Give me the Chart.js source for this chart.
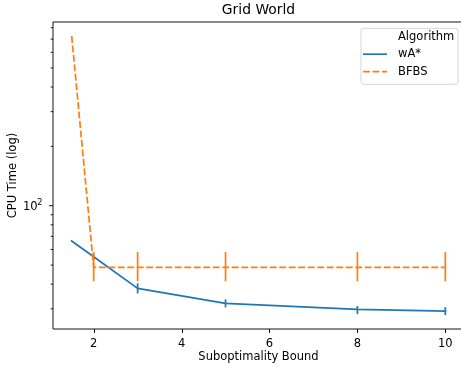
<!DOCTYPE html>
<html>
<head>
<meta charset="utf-8">
<script src="https://cdn.jsdelivr.net/npm/chart.js@4/dist/chart.umd.min.js"></script>
<style>
html,body{margin:0;padding:0;background:#fff;overflow:hidden;width:461px;height:368px;}
#wrap{position:relative;width:465px;height:368px;}
canvas{display:block;}
</style>
</head>
<body>
<div id="wrap"><canvas id="c" width="465" height="368"></canvas></div>
<script>
// ---- data ----
const bounds = [1.5, 2, 3, 5, 8, 10];
const wastar = [66.2, 55.1, 38.1, 32.0, 29.8, 29.2];
const wastarLow = [null, 53.2, 35.9, 30.5, 28.2, 27.9];
const wastarHigh = [null, 57.0, 40.4, 33.5, 31.0, 30.6];
const bfbs = [726, 48.7, 48.7, 48.7, 48.7, 48.7];
const bfbsLow = [null, 41.4, 41.4, 41.4, 41.4, 41.4];
const bfbsHigh = [null, 58.2, 58.2, 58.2, 58.2, 58.2];
const xTicks = [2, 4, 6, 8, 10];
const yMajorTicks = [100];
const yMajorLabels = [['10', '2']];   // base, exponent
const yMinorTicks = [30, 40, 50, 60, 70, 80, 90, 200, 300, 400, 500, 600, 700, 800];
const seriesNames = ['wA*', 'BFBS'];
const legendTitle = 'Algorithm';
const chartTitle = 'Grid World';
const xTitle = 'Suboptimality Bound';
const yTitle = 'CPU Time (log)';

const BLUE = '#1f77b4', ORANGE = '#ff7f0e';
const FONT = '"DejaVu Sans", sans-serif';
const LW = 1.73;
const DASH = [6.9, 2.6];

function pts(ys){ return bounds.map((x,i)=>({x:x,y:ys[i]})); }

const errPlugin = {
  id:'errbars',
  afterDatasetDraw(chart, args){
    const ds = chart.data.datasets[args.index];
    const xs = chart.scales.x, ys = chart.scales.y;
    const ctx = chart.ctx;
    ctx.save();
    ctx.strokeStyle = ds.borderColor;
    ctx.lineWidth = LW;
    ctx.setLineDash([]);
    for (let i=0;i<bounds.length;i++){
      if (ds.errLow[i]==null) continue;
      const px = xs.getPixelForValue(bounds[i]);
      ctx.beginPath();
      ctx.moveTo(px, ys.getPixelForValue(ds.errLow[i]));
      ctx.lineTo(px, ys.getPixelForValue(ds.errHigh[i]));
      ctx.stroke();
    }
    ctx.restore();
  }
};

const decoPlugin = {
  id:'deco',
  afterDraw(chart){
    const ctx = chart.ctx, a = chart.chartArea;
    const xs = chart.scales.x, ys = chart.scales.y;
    ctx.save();
    // frame
    ctx.strokeStyle = '#000'; ctx.lineWidth = 0.92;
    ctx.beginPath();
    ctx.moveTo(a.left, a.bottom); ctx.lineTo(a.left, a.top); ctx.lineTo(a.right, a.top);
    ctx.moveTo(a.left, a.bottom); ctx.lineTo(a.right, a.bottom);
    ctx.moveTo(a.right, a.top); ctx.lineTo(a.right, a.bottom);
    ctx.stroke();
    // ticks
    ctx.beginPath();
    xTicks.forEach(v=>{ const p = Math.round(xs.getPixelForValue(v))+0.5; ctx.moveTo(p,a.bottom); ctx.lineTo(p,a.bottom+4); });
    yMajorTicks.forEach(v=>{ const p = ys.getPixelForValue(v); ctx.moveTo(a.left,p); ctx.lineTo(a.left-4,p); });
    yMinorTicks.forEach(v=>{ const p = ys.getPixelForValue(v); ctx.moveTo(a.left,p); ctx.lineTo(a.left-2.3,p); });
    ctx.stroke();
    // y major tick labels (mathtext-like superscript)
    ctx.fillStyle = '#000';
    ctx.textBaseline = 'alphabetic';
    yMajorTicks.forEach((v,i)=>{
      const p = ys.getPixelForValue(v);
      const [base, exp] = yMajorLabels[i];
      ctx.font = '8.2px ' + FONT;
      const ew = ctx.measureText(exp).width;
      ctx.textAlign = 'right';
      ctx.fillText(exp, a.left - 10.5, p - 0.3);
      ctx.font = '11.5px ' + FONT;
      ctx.fillText(base, a.left - 10.5 - ew + 0.3, p + 4.3);
    });
    // titles
    ctx.textAlign = 'center'; ctx.textBaseline = 'middle';
    ctx.font = '13.9px ' + FONT;
    const cx = (a.left + a.right)/2;
    ctx.fillText(chartTitle, cx, 10);
    ctx.font = '11.5px ' + FONT;
    ctx.fillText(xTitle, cx, 357);
    ctx.save();
    ctx.translate(13.5, (a.top + a.bottom)/2);
    ctx.rotate(-Math.PI/2);
    ctx.fillText(yTitle, 0, 0);
    ctx.restore();
    // legend
    const lx = 361, ly = 28.3, lw = 97, lh = 56;
    ctx.fillStyle = 'rgba(255,255,255,0.8)';
    ctx.strokeStyle = 'rgba(204,204,204,0.8)';
    ctx.lineWidth = 1;
    ctx.beginPath();
    if (ctx.roundRect) ctx.roundRect(lx, ly, lw, lh, 3); else ctx.rect(lx, ly, lw, lh);
    ctx.fill(); ctx.stroke();
    ctx.fillStyle = '#000';
    ctx.textAlign = 'left'; ctx.textBaseline = 'middle';
    ctx.font = '11.5px ' + FONT;
    const rows = [36.8, 54.2, 71.6];
    ctx.fillText(legendTitle, 398, rows[0]);
    const cols = [BLUE, ORANGE];
    seriesNames.forEach((n,i)=>{
      const y = rows[i+1];
      ctx.strokeStyle = cols[i]; ctx.lineWidth = LW;
      ctx.setLineDash(i===1 ? DASH : []);
      ctx.beginPath(); ctx.moveTo(363, y); ctx.lineTo(387, y); ctx.stroke();
      ctx.setLineDash([]);
      ctx.fillText(n, 398, y);
    });
    ctx.restore();
  }
};

new Chart(document.getElementById('c'), {
  type:'line',
  data:{
    datasets:[
      {label:seriesNames[0], data:pts(wastar), errLow:wastarLow, errHigh:wastarHigh,
       borderColor:BLUE, backgroundColor:BLUE, borderWidth:LW, pointRadius:0, tension:0, order:2,
       borderJoinStyle:'round', borderCapStyle:'square'},
      {label:seriesNames[1], data:pts(bfbs), errLow:bfbsLow, errHigh:bfbsHigh,
       borderColor:ORANGE, backgroundColor:ORANGE, borderWidth:LW, borderDash:DASH, pointRadius:0, tension:0, order:1}
    ]
  },
  options:{
    responsive:false, animation:false, devicePixelRatio:1,
    layout:{padding:{top:22, right:1, left:0, bottom:0}},
    plugins:{legend:{display:false}, title:{display:false}, tooltip:{enabled:false}},
    scales:{
      x:{type:'linear', min:1.075, max:10.425,
         grid:{display:false, drawTicks:false}, border:{display:false},
         afterBuildTicks(s){ s.ticks = xTicks.map(v=>({value:v})); },
         afterFit(s){ s.height = 39; },
         ticks:{padding:8, color:'#000', font:{family:'DejaVu Sans', size:11.5}, maxRotation:0, autoSkip:false,
                callback:(v)=>String(v)}},
      y:{type:'logarithmic', min:23.7, max:855,
         grid:{display:false, drawTicks:false}, border:{display:false},
         afterBuildTicks(s){ s.ticks = yMajorTicks.map(v=>({value:v})); },
         afterFit(s){ s.width = 53; },
         ticks:{display:false}}
    }
  },
  plugins:[errPlugin, decoPlugin]
});
</script>
</body>
</html>
